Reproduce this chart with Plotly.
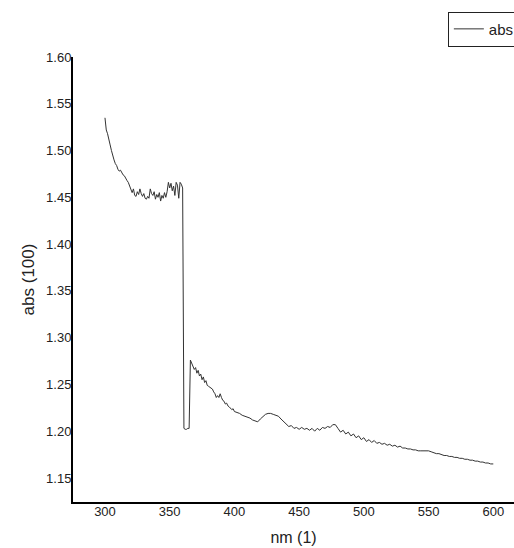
import plotly.graph_objects as go

wavelength_nm = [
    300, 301, 302, 303, 304, 305, 306, 307, 308, 309,
    310, 311, 312, 313, 314, 315, 316, 317, 318, 319,
    320, 321, 322, 323, 324, 325, 326, 327, 328, 329,
    330, 331, 332, 333, 334, 335, 336, 337, 338, 339,
    340, 341, 342, 343, 344, 345, 346, 347, 348, 349,
    350, 351, 352, 353, 354, 355, 356, 357, 358, 359,
    360, 361, 362, 363, 364, 365, 366, 367, 368, 369,
    370, 371, 372, 373, 374, 375, 376, 377, 378, 379,
    380, 381, 382, 383, 384, 385, 386, 387, 388, 389,
    390, 391, 392, 393, 394, 395, 396, 397, 398, 399,
    400, 402, 404, 406, 408, 410, 412, 414, 416, 418,
    420, 422, 424, 426, 428, 430, 432, 434, 436, 438,
    440, 442, 444, 446, 448, 450, 452, 454, 456, 458,
    460, 462, 464, 466, 468, 470, 472, 474, 476, 478,
    480, 482, 484, 486, 488, 490, 492, 494, 496, 498,
    500, 502, 504, 506, 508, 510, 512, 514, 516, 518,
    520, 522, 524, 526, 528, 530, 532, 534, 536, 538,
    540, 542, 544, 546, 548, 550, 552, 554, 556, 558,
    560, 562, 564, 566, 568, 570, 572, 574, 576, 578,
    580, 582, 584, 586, 588, 590, 592, 594, 596, 598,
    600,
]

absorbance = [
    1.535, 1.522, 1.518, 1.510, 1.506, 1.500, 1.494, 1.490, 1.486, 1.484,
    1.480, 1.478, 1.479, 1.476, 1.474, 1.473, 1.470, 1.468, 1.466, 1.462,
    1.458, 1.455, 1.459, 1.452, 1.451, 1.456, 1.453, 1.459, 1.454, 1.451,
    1.454, 1.449, 1.448, 1.451, 1.449, 1.459, 1.454, 1.452, 1.456, 1.448,
    1.453, 1.450, 1.455, 1.446, 1.452, 1.449, 1.455, 1.450, 1.456, 1.466,
    1.460, 1.465, 1.457, 1.462, 1.452, 1.466, 1.463, 1.449, 1.466, 1.464,
    1.460, 1.203, 1.202, 1.202, 1.203, 1.203, 1.276, 1.272, 1.270, 1.266,
    1.268, 1.262, 1.265, 1.259, 1.261, 1.255, 1.258, 1.252, 1.254, 1.249,
    1.248, 1.247, 1.246, 1.245, 1.242, 1.240, 1.236, 1.238, 1.236, 1.240,
    1.236, 1.233, 1.232, 1.229, 1.230, 1.227, 1.226, 1.224, 1.223, 1.224,
    1.221, 1.220, 1.219, 1.217, 1.216, 1.215, 1.214, 1.212, 1.211, 1.210,
    1.213, 1.216, 1.218, 1.219, 1.219, 1.218, 1.217, 1.216, 1.213, 1.210,
    1.207, 1.205, 1.206, 1.203, 1.204, 1.202, 1.204, 1.202, 1.203, 1.201,
    1.203, 1.200, 1.203, 1.201, 1.204, 1.203, 1.205, 1.204, 1.207, 1.207,
    1.203, 1.199, 1.201, 1.197, 1.199, 1.195, 1.197, 1.193, 1.195, 1.191,
    1.193, 1.189, 1.191, 1.188, 1.190, 1.187, 1.188, 1.186, 1.187, 1.185,
    1.186, 1.184, 1.185, 1.183, 1.184, 1.182, 1.182, 1.181, 1.181, 1.180,
    1.180, 1.179, 1.179, 1.179, 1.179, 1.179, 1.178, 1.177, 1.176, 1.176,
    1.175, 1.174, 1.174, 1.173, 1.173, 1.172, 1.172, 1.171, 1.171, 1.170,
    1.170, 1.169, 1.169, 1.168, 1.168, 1.167, 1.167, 1.166, 1.166, 1.165,
    1.165,
]

x_ticks = [300, 350, 400, 450, 500, 550, 600]
y_ticks = [1.15, 1.20, 1.25, 1.30, 1.35, 1.40, 1.45, 1.50, 1.55, 1.60]
y_tick_labels = ["1.15", "1.20", "1.25", "1.30", "1.35", "1.40", "1.45", "1.50", "1.55", "1.60"]

fig = go.Figure()
fig.add_trace(go.Scatter(
    x=wavelength_nm, y=absorbance, mode="lines", name="abs",
    line=dict(color="#333333", width=1),
))

font = "Arial, Liberation Sans, sans-serif"
fig.update_layout(
    width=514, height=548,
    margin=dict(l=73, r=0, t=57, b=46, autoexpand=False),
    paper_bgcolor="white", plot_bgcolor="white",
    font=dict(family=font, color="#222222", size=13),
    showlegend=True,
    legend=dict(
        x=0.850, y=1.102, xanchor="left", yanchor="top",
        bordercolor="#222222", borderwidth=1, bgcolor="white",
        font=dict(size=15, family=font, color="#222222"),
        itemwidth=30, tracegroupgap=0,
    ),
    xaxis=dict(
        range=[275.3, 616], tickvals=x_ticks, showgrid=False, zeroline=False,
        showline=True, linecolor="black", linewidth=2, ticks="",
        tickfont=dict(size=13, family=font, color="#222222"),
        ticklabelstandoff=-4,
        title=dict(text="nm (1)", font=dict(size=16, family=font, color="#222222"), standoff=14),
    ),
    yaxis=dict(
        range=[1.1243, 1.60], tickvals=y_ticks, ticktext=y_tick_labels,
        showgrid=False, zeroline=False,
        showline=True, linecolor="black", linewidth=2, ticks="",
        tickfont=dict(size=13, family=font, color="#222222"),
        ticklabelstandoff=-3,
        title=dict(text="abs (100)", font=dict(size=17, family=font, color="#222222"), standoff=7),
    ),
)

fig.write_html(
    "out.html",
    config={"displayModeBar": False},
    post_script="document.body.style.margin='0';document.body.style.overflow='hidden';",
)
